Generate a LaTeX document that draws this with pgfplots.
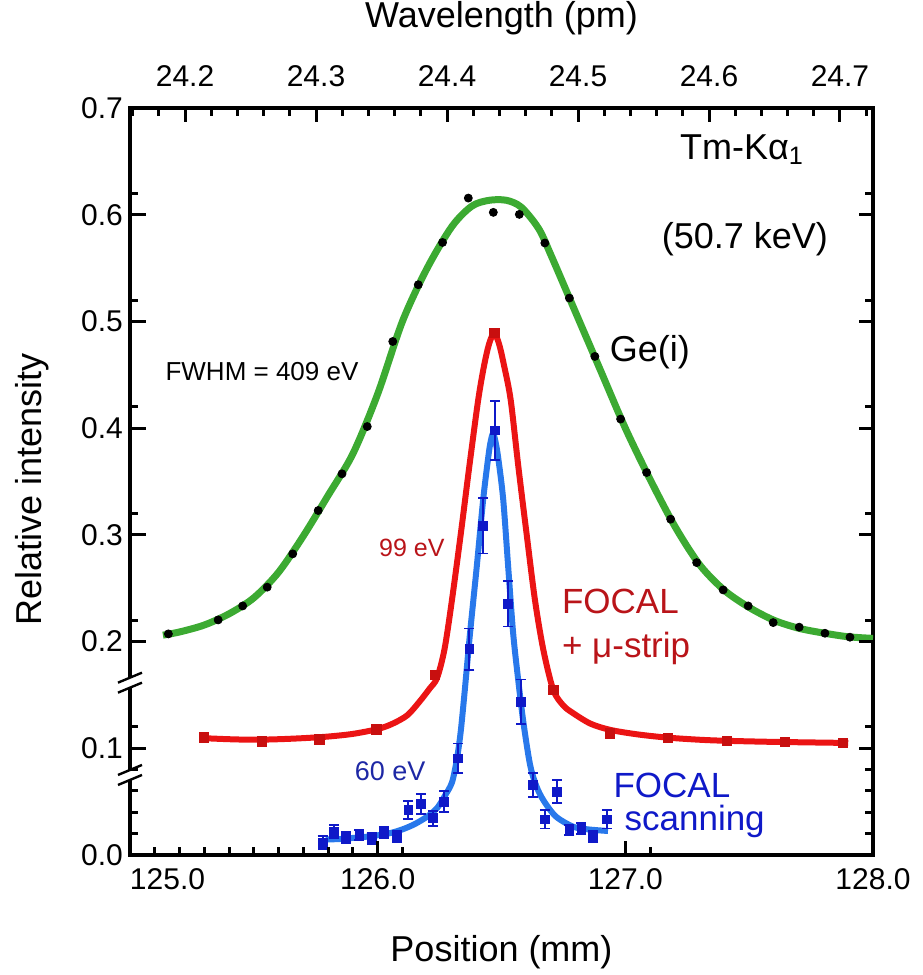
\documentclass[border=0pt]{standalone}
\usepackage{fontspec}
\setmainfont{Liberation Sans}
\usepackage{pgfplots}
\pgfplotsset{compat=1.18}
\usepackage{pgfplotstable}

\definecolor{ggreen}{RGB}{60,170,50}
\definecolor{rred}{RGB}{235,20,20}
\definecolor{dred}{RGB}{185,20,25}
\definecolor{sqred}{RGB}{200,15,15}
\definecolor{lblue}{RGB}{40,120,235}
\definecolor{dblue}{RGB}{15,25,200}
\definecolor{nblue}{RGB}{30,40,165}

\pgfplotstableread{
x y
125.133 0.206
125.2 0.209
125.3 0.2155
125.4 0.226
125.5 0.241
125.6 0.265
125.7 0.299
125.8 0.337
125.9 0.376
126.0 0.432
126.1 0.500
126.2 0.550
126.3 0.589
126.38 0.608
126.45 0.6135
126.52 0.6135
126.58 0.607
126.65 0.587
126.7 0.562
126.8 0.508
126.9 0.454
127.0 0.400
127.1 0.352
127.2 0.308
127.3 0.272
127.4 0.248
127.5 0.232
127.6 0.220
127.7 0.2125
127.8 0.208
127.9 0.2045
128.0 0.203
}\gefit

\pgfplotstableread{
x y
125.155 0.2072
125.356 0.2203
125.455 0.2334
125.554 0.2510
125.657 0.2822
125.760 0.3228
125.856 0.3572
125.958 0.4015
126.061 0.4812
126.164 0.5344
126.262 0.5740
126.366 0.6156
126.467 0.6022
126.572 0.6003
126.675 0.5735
126.774 0.5219
126.877 0.4672
126.981 0.4085
127.086 0.3584
127.183 0.3147
127.288 0.2740
127.395 0.2484
127.496 0.2334
127.597 0.2178
127.702 0.2135
127.806 0.2078
127.907 0.2041
}\gedata

\pgfplotstableread{
x y
125.295 0.1095
125.4 0.1085
125.5 0.1080
125.6 0.1085
125.7 0.1095
125.8 0.1110
125.9 0.1135
126.0 0.1180
126.06 0.1230
126.12 0.1310
126.17 0.1440
126.21 0.1560
126.24 0.1660
126.27 0.1930
126.30 0.2390
126.336 0.3016
126.37 0.3640
126.406 0.4266
126.43 0.4590
126.45 0.4790
126.47 0.4890
126.49 0.4790
126.51 0.4590
126.537 0.4266
126.568 0.3640
126.601 0.3016
126.635 0.2391
126.669 0.1922
126.709 0.1547
126.75 0.1400
126.79 0.1328
126.86 0.1230
126.94 0.1172
127.05 0.1130
127.17 0.1100
127.30 0.1080
127.41 0.1070
127.60 0.1060
127.90 0.1050
}\redfit

\pgfplotstableread{
x y
125.299 0.1103
125.532 0.1062
125.764 0.1085
125.996 0.1178
126.231 0.1687
126.471 0.4891
126.709 0.1547
126.938 0.1141
127.172 0.1097
127.410 0.1069
127.644 0.1059
127.878 0.1050
}\reddata

\pgfplotstableread{
x y
125.79 0.0145
125.85 0.0150
125.90 0.0160
125.95 0.0170
126.00 0.0185
126.05 0.0205
126.10 0.0240
126.15 0.0290
126.20 0.0360
126.24 0.0440
126.27 0.0550
126.30 0.0680
126.32 0.0900
126.335 0.1150
126.35 0.1500
126.373 0.2080
126.40 0.2700
126.426 0.3330
126.445 0.3700
126.455 0.3860
126.466 0.3950
126.477 0.3860
126.488 0.3700
126.507 0.3330
126.527 0.2700
126.547 0.2080
126.567 0.1650
126.588 0.1250
126.615 0.0850
126.64 0.0650
126.67 0.0510
126.72 0.0360
126.79 0.0265
126.85 0.0240
126.93 0.0225
}\bluefit

\pgfplotstableread{
x y e
125.778 0.0115 0.0060
125.824 0.0219 0.0063
125.872 0.0166 0.0050
125.926 0.0188 0.0050
125.976 0.0156 0.0050
126.025 0.0209 0.0050
126.077 0.0172 0.0050
126.124 0.0422 0.0086
126.174 0.0478 0.0094
126.222 0.0344 0.0072
126.268 0.0500 0.0098
126.325 0.0906 0.0138
126.370 0.1928 0.0195
126.426 0.3084 0.0258
126.474 0.3978 0.0280
126.527 0.2353 0.0211
126.579 0.1434 0.0210
126.626 0.0656 0.0110
126.675 0.0334 0.0086
126.725 0.0594 0.0110
126.774 0.0234 0.0050
126.823 0.0250 0.0050
126.870 0.0172 0.0050
126.925 0.0334 0.0086
}\bluedata

\begin{document}
\begin{tikzpicture}
\begin{axis}[
  name=ax,
  width=371.5pt, height=373.5pt, scale only axis,
  xmin=125, xmax=128, ymin=0, ymax=0.7,
  xtick={125,126,127,128},
  xticklabels={\rlap{125.0},126.0,127.0,128.0},
  ytick={0,0.1,0.2,0.3,0.4,0.5,0.6,0.7},
  major tick length=0pt, minor tick length=0pt,
  axis line style={line width=2pt},
  /pgf/number format/assume math mode=true,
  xticklabel style={yshift=-3pt},
  yticklabel style={/pgf/number format/.cd,fixed,fixed zerofill,precision=1},
  tick label style={font=\fontsize{15}{15}\selectfont},
  label style={font=\fontsize{18}{18}\selectfont},
  xlabel={Position (mm)},
  ylabel={Relative intensity},
  xlabel style={at={(axis description cs:0.5,-0.13)}, anchor=center},
  ylabel style={at={(axis description cs:-0.132,0.489)}, anchor=center},
  clip=false,
]
\addplot[ggreen, line width=3.5pt, smooth, tension=0.5] table {\gefit};
\addplot[only marks, mark=*, mark size=2pt, black] table {\gedata};
\addplot[rred, line width=3pt, smooth, tension=0.5] table {\redfit};
\addplot[only marks, mark=square*, mark size=2.4pt, sqred] table {\reddata};
\addplot[lblue, line width=3pt, smooth, tension=0.5] table {\bluefit};
\addplot[only marks, mark=square*, mark size=2.2pt, dblue,
  error bars/.cd, y dir=both, y explicit,
  error bar style={line width=0.9pt, dblue},
  error mark options={rotate=90, mark size=2.5pt, line width=0.9pt, dblue}]
  table[y error=e] {\bluedata};

\node[font=\fontsize{18}{18}\selectfont] at (axis cs:127.471,0.661) {Tm-Kα\textsubscript{1}};
\node[font=\fontsize{18}{18}\selectfont] at (axis cs:127.483,0.5766) {(50.7 keV)};
\node[font=\fontsize{18}{18}\selectfont] at (axis cs:127.099,0.4716) {Ge(i)};
\node[font=\fontsize{13}{13}\selectfont] at (axis cs:125.533,0.4528) {FWHM = 409 eV};
\node[font=\fontsize{12.5}{12.5}\selectfont, text=dred] at (axis cs:126.138,0.2878) {99 eV};
\node[font=\fontsize{17.5}{17.5}\selectfont, text=dred, anchor=west] at (axis cs:126.716,0.2372) {FOCAL};
\node[font=\fontsize{17.5}{17.5}\selectfont, text=dred, anchor=west] at (axis cs:126.716,0.194) {+ μ-strip};
\node[font=\fontsize{13.5}{13.5}\selectfont, text=nblue] at (axis cs:126.05,0.0787) {60 eV};
\node[font=\fontsize{17.5}{17.5}\selectfont, text=dblue] at (axis cs:127.188,0.0656) {FOCAL};
\node[font=\fontsize{17.5}{17.5}\selectfont, text=dblue] at (axis cs:127.28,0.031) {scanning};

% axis breaks on the left spine
\fill[white] ([xshift=-1.8pt,yshift=-2.5pt]axis cs:125,0.1615) rectangle ([xshift=1.8pt,yshift=2.5pt]axis cs:125,0.1615);
\draw[line width=1.2pt] ([xshift=-6pt,yshift=-5pt]axis cs:125,0.1615) -- ([xshift=6pt,yshift=0pt]axis cs:125,0.1615);
\draw[line width=1.2pt] ([xshift=-6pt,yshift=0pt]axis cs:125,0.1615) -- ([xshift=6pt,yshift=5pt]axis cs:125,0.1615);
\fill[white] ([xshift=-1.8pt,yshift=-2.5pt]axis cs:125,0.075) rectangle ([xshift=1.8pt,yshift=2.5pt]axis cs:125,0.075);
\draw[line width=1.2pt] ([xshift=-6pt,yshift=-5pt]axis cs:125,0.075) -- ([xshift=6pt,yshift=0pt]axis cs:125,0.075);
\draw[line width=1.2pt] ([xshift=-6pt,yshift=0pt]axis cs:125,0.075) -- ([xshift=6pt,yshift=5pt]axis cs:125,0.075);

\coordinate (SW) at (rel axis cs:0,0);
\coordinate (NE) at (rel axis cs:1,1);
\coordinate (SE) at (rel axis cs:1,0);
\coordinate (NW) at (rel axis cs:0,1);
\end{axis}

\begin{axis}[
  width=371.5pt, height=373.5pt, scale only axis,
  xmin=24.158, xmax=24.7252, ymin=0, ymax=0.7,
  axis x line*=top, axis y line=none,
  xtick={24.2,24.3,24.4,24.5,24.6,24.7},
  major tick length=0pt, minor tick length=0pt,
  axis line style={line width=2pt},
  /pgf/number format/assume math mode=true,
  xticklabel style={yshift=7pt, /pgf/number format/.cd,fixed,fixed zerofill,precision=1},
  tick label style={font=\fontsize{15}{15}\selectfont},
  label style={font=\fontsize{18}{18}\selectfont},
  xlabel={Wavelength (pm)},
  xlabel style={at={(axis description cs:0.5,1.12)}, anchor=center},
  clip=false,
]
\addplot[draw=none] coordinates {(24.3,0.5)};
\end{axis}

% tick marks along the frame (0.1 mm, 0.02 intensity, 0.02 pm steps)
\foreach \i in {1,...,9,11,...,19,21,...,29}
  \draw[line width=1.5pt] ([xshift=\i*12.3833pt]SW) -- ([xshift=\i*12.3833pt,yshift=4pt]SW);
\foreach \i in {10,20}
  \draw[line width=1.5pt] ([xshift=\i*12.3833pt]SW) -- ([xshift=\i*12.3833pt,yshift=7pt]SW);
\foreach \j in {1,...,4,6,...,9,11,...,14,16,...,19,21,...,24,26,...,29,31,...,34} {
  \draw[line width=1.5pt] ([yshift=\j*10.6714pt]SW) -- ([yshift=\j*10.6714pt,xshift=4pt]SW);
  \draw[line width=1.5pt] ([yshift=\j*10.6714pt]SE) -- ([yshift=\j*10.6714pt,xshift=-4pt]SE);
}
\foreach \j in {5,10,15,20,25,30} {
  \draw[line width=1.5pt] ([yshift=\j*10.6714pt]SW) -- ([yshift=\j*10.6714pt,xshift=8pt]SW);
  \draw[line width=1.5pt] ([yshift=\j*10.6714pt]SE) -- ([yshift=\j*10.6714pt,xshift=-7pt]SE);
}
\foreach \k in {0,1,3,4,5,6,8,9,10,11,13,14,15,16,18,19,20,21,23,24,25,26,28}
  \draw[line width=1.5pt] ([xshift=1.31pt+\k*13.0995pt]NW) -- ([xshift=1.31pt+\k*13.0995pt,yshift=-4pt]NW);
\foreach \k in {2,7,12,17,22,27}
  \draw[line width=1.5pt] ([xshift=1.31pt+\k*13.0995pt]NW) -- ([xshift=1.31pt+\k*13.0995pt,yshift=-7pt]NW);

\pgfresetboundingbox
\path[use as bounding box] ([xshift=-65pt,yshift=-60pt]SW) rectangle ([xshift=24.5pt,yshift=54pt]NE);
\end{tikzpicture}
\end{document}
